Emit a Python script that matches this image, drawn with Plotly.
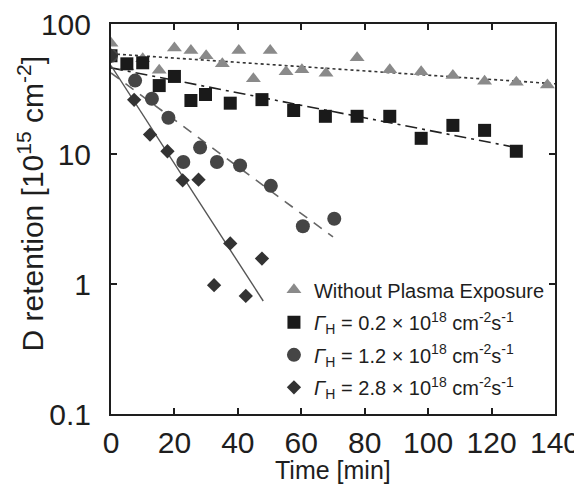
import plotly.graph_objects as go

# ---- data ----
tri_x = [0, 5.0, 10.0, 15.2, 20.0, 25.2, 30.0, 35.1, 40.3, 44.9, 50.2, 55.2, 60.2, 67.8, 77.6, 87.9, 97.8, 107.8, 117.8, 127.8, 137.6]
tri_y = [71, 47, 54, 44, 65.5, 62.5, 57, 49.4, 62.5, 37.9, 62.5, 43, 44.4, 41.8, 55, 44.4, 43, 40.2, 36.3, 35.7, 34]

sq_x = [0, 5.0, 10.0, 15.2, 20.0, 25.2, 29.8, 37.6, 47.6, 57.6, 67.6, 77.6, 87.9, 97.8, 107.8, 117.8, 127.8]
sq_y = [57, 49.4, 50.3, 33.6, 39.5, 25.8, 28.7, 24.6, 26.2, 21.6, 19.5, 19.5, 19.5, 13.2, 16.6, 15.2, 10.5]

ci_x = [0, 7.6, 12.9, 18.1, 22.8, 28.1, 33.4, 40.7, 50.4, 60.5, 70.4]
ci_y = [57, 36.7, 26.6, 19.0, 8.67, 11.2, 8.67, 8.17, 5.69, 2.78, 3.18]

di_x = [0, 7.3, 12.3, 17.8, 22.6, 27.6, 32.5, 37.6, 42.5, 47.6]
di_y = [57, 26.1, 14.1, 10.5, 6.27, 6.35, 0.98, 2.05, 0.81, 1.57]

# fitted lines (end points)
tri_fit_x = [0, 140]
tri_fit_y = [59, 34.7]
sq_fit_x = [0, 127]
sq_fit_y = [46, 11.3]
ci_fit_x = [0, 70]
ci_fit_y = [42, 2.3]
di_fit_x = [0, 48]
di_fit_y = [47.9, 0.74]

x_ticks = [0, 20, 40, 60, 80, 100, 120, 140]
y_ticks = [0.1, 1, 10, 100]
y_tick_text = ["0.1", "1", "10", "100"]

labels = [
    "Without Plasma Exposure",
    "<i>Γ</i><sub>H</sub> = 0.2 × 10<sup>18</sup> cm<sup>-2</sup>s<sup>-1</sup>",
    "<i>Γ</i><sub>H</sub> = 1.2 × 10<sup>18</sup> cm<sup>-2</sup>s<sup>-1</sup>",
    "<i>Γ</i><sub>H</sub> = 2.8 × 10<sup>18</sup> cm<sup>-2</sup>s<sup>-1</sup>",
]
y_title = "D retention [10<sup>15</sup> cm<sup>-2</sup>]"
x_title = "Time [min]"

FONT = "Liberation Sans, Arial, sans-serif"
INK = "#1e1e1e"

fig = go.Figure()

# fit lines
fig.add_trace(go.Scatter(x=tri_fit_x, y=tri_fit_y, mode="lines", showlegend=False,
                         line=dict(color="#333333", width=1.6, dash="3px,3px")))
fig.add_trace(go.Scatter(x=sq_fit_x, y=sq_fit_y, mode="lines", showlegend=False,
                         line=dict(color="#222222", width=1.6, dash="12px,5px,3px,5px")))
fig.add_trace(go.Scatter(x=ci_fit_x, y=ci_fit_y, mode="lines", showlegend=False,
                         line=dict(color="#666666", width=1.6, dash="10px,8px")))
fig.add_trace(go.Scatter(x=di_fit_x, y=di_fit_y, mode="lines", showlegend=False,
                         line=dict(color="#555555", width=1.4)))

# data markers
fig.add_trace(go.Scatter(x=tri_x, y=tri_y, mode="markers", name=labels[0], legendgroup="a",
                         marker=dict(symbol="triangle-up", size=13, color="#8a8a8a")))
fig.add_trace(go.Scatter(x=sq_x, y=sq_y, mode="markers", name=labels[1], legendgroup="b",
                         marker=dict(symbol="square", size=13, color="#1a1a1a")))
fig.add_trace(go.Scatter(x=ci_x, y=ci_y, mode="markers", name=labels[2], legendgroup="c",
                         marker=dict(symbol="circle", size=14, color="#454545")))
fig.add_trace(go.Scatter(x=di_x, y=di_y, mode="markers", name=labels[3], legendgroup="d",
                         marker=dict(symbol="diamond", size=11, color="#333333")))

axis_common = dict(showline=True, linecolor=INK, linewidth=2, mirror="ticks",
                   ticks="inside", ticklen=6, tickwidth=1.5, tickcolor=INK,
                   showgrid=False, zeroline=False, ticklabeloverflow="allow",
                   tickfont=dict(family=FONT, size=30, color=INK))

fig.update_xaxes(range=[0, 140], tickvals=x_ticks, ticklabelstandoff=1,
                 **axis_common)
fig.update_yaxes(type="log", range=[-1, 2], tickvals=y_ticks, ticktext=y_tick_text,
                 ticklabelstandoff=12,
                 **axis_common)

fig.add_annotation(text=y_title, xref="paper", yref="paper", x=-0.18, y=0.54,
                   xanchor="center", yanchor="middle", textangle=-90, showarrow=False,
                   font=dict(family=FONT, size=30, color=INK))
fig.add_annotation(text=x_title, xref="paper", yref="paper", x=0.5, y=-0.143,
                   xanchor="center", yanchor="middle", showarrow=False,
                   font=dict(family=FONT, size=25, color=INK))

fig.update_layout(
    width=582, height=486,
    margin=dict(l=103, r=35, t=15.5, b=80, autoexpand=False),
    paper_bgcolor="white", plot_bgcolor="white",
    font=dict(family=FONT, color=INK),
    legend=dict(x=0.367, y=0.017, xanchor="left", yanchor="bottom",
                bgcolor="rgba(0,0,0,0)", borderwidth=0,
                font=dict(family=FONT, size=20, color=INK),
                itemwidth=30, tracegroupgap=3.5),
)

fig.write_html("out.html")
